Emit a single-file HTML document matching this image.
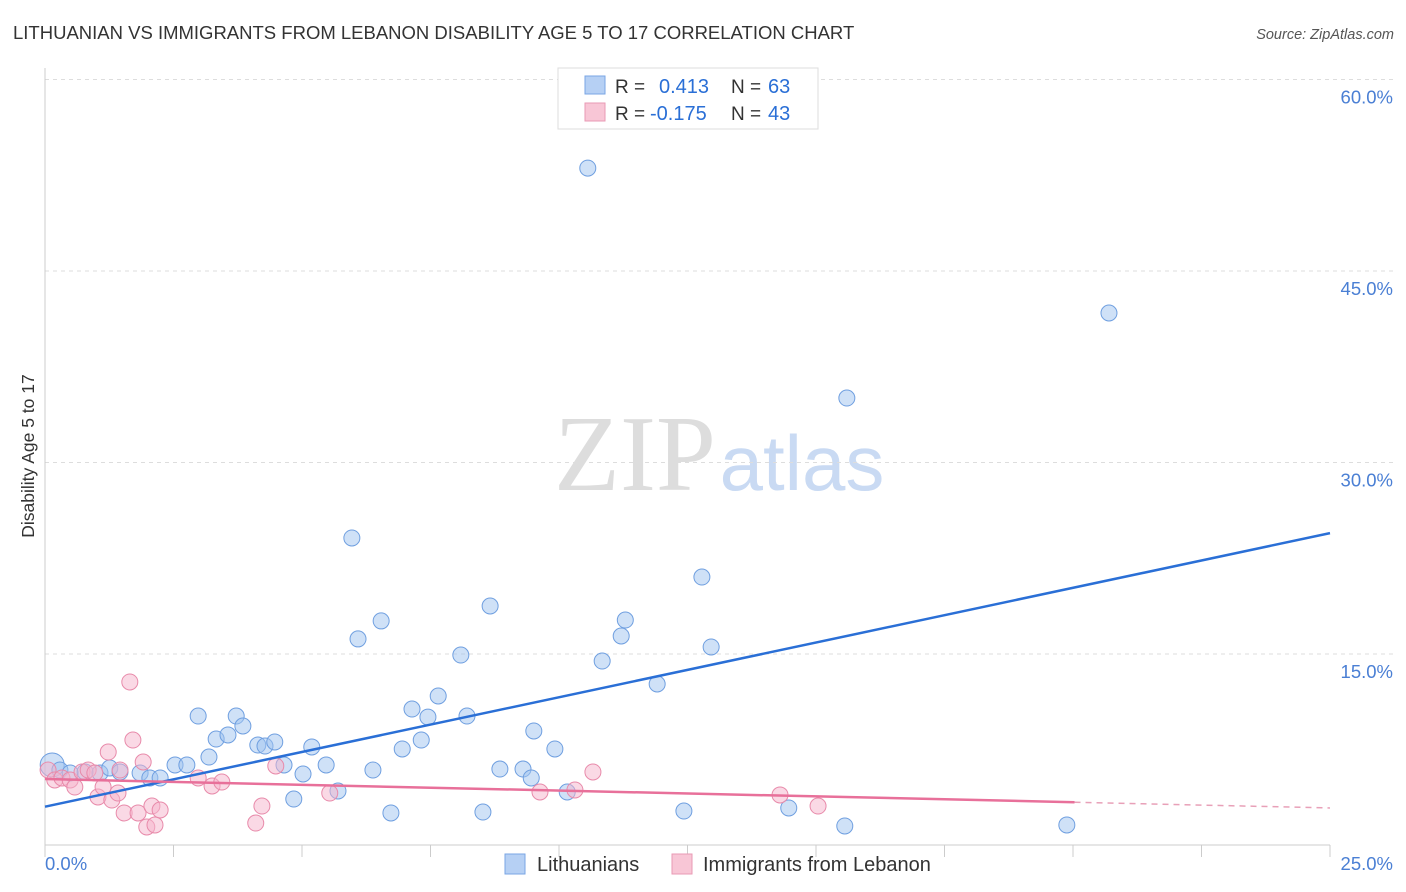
<!DOCTYPE html>
<html><head><meta charset="utf-8"><style>
body{margin:0;background:#fff;font-family:"Liberation Sans",sans-serif;}
</style></head><body>
<svg id="chart" width="1406" height="892" xmlns="http://www.w3.org/2000/svg" style="display:block">
<text x="13" y="39" font-size="18.5" fill="#333">LITHUANIAN VS IMMIGRANTS FROM LEBANON DISABILITY AGE 5 TO 17 CORRELATION CHART</text>
<text x="1394" y="39" font-size="14.5" fill="#555" font-style="italic" text-anchor="end">Source: ZipAtlas.com</text>
<g>
<text x="635" y="490" font-size="108" fill="#ddd" font-family="Liberation Serif,serif" text-anchor="middle">ZIP</text>
<text x="802" y="490" font-size="78" fill="#c9daf3" text-anchor="middle">atlas</text>
</g>
<g id="grid"></g><g id="axes"></g><g id="pts"></g><g id="lines"></g>
<g>
<rect x="558" y="68" width="260" height="61" fill="#fff" stroke="#ddd"/>
<rect x="585" y="76" width="20" height="18" fill="#b6d0f4" stroke="#7aa6e4"/>
<text x="615" y="93" font-size="19" fill="#333">R = </text><text x="659" y="93" font-size="20" fill="#2a6fd6">0.413</text>
<text x="731" y="93" font-size="19" fill="#333">N = </text><text x="768" y="93" font-size="20" fill="#2a6fd6">63</text>
<rect x="585" y="103" width="20" height="18" fill="#f8c6d6" stroke="#e99ab4"/>
<text x="615" y="120" font-size="19" fill="#333">R = </text><text x="650" y="120" font-size="20" fill="#2a6fd6">-0.175</text>
<text x="731" y="120" font-size="19" fill="#333">N = </text><text x="768" y="120" font-size="20" fill="#2a6fd6">43</text>
</g>
<g>
<rect x="505" y="854" width="20" height="20" fill="#b6d0f4" stroke="#7aa6e4"/>
<text x="537" y="871" font-size="20" fill="#333">Lithuanians</text>
<rect x="672" y="854" width="20" height="20" fill="#f8c6d6" stroke="#e99ab4"/>
<text x="703" y="871" font-size="20" fill="#333">Immigrants from Lebanon</text>
</g>
<text transform="translate(34,456) rotate(-90)" font-size="17.5" fill="#333" text-anchor="middle">Disability Age 5 to 17</text>
</svg>
<script>
const yTicks=[15,30,45,60];
const yTickLabels=["15.0%","30.0%","45.0%","60.0%"];
const xTickLabels=["0.0%","25.0%"];
const blueX=[0.14,0.29,0.49,0.78,1.07,1.26,1.46,1.85,2.04,2.24,2.53,2.76,2.98,3.19,3.33,3.56,3.72,3.85,4.14,4.28,4.47,4.65,4.84,5.02,5.19,5.47,5.70,5.97,6.09,6.38,6.54,6.73,6.95,7.14,7.32,7.45,7.65,8.09,8.21,8.52,8.66,8.85,9.30,9.46,9.51,9.92,10.16,10.56,10.84,11.21,11.29,11.91,12.43,12.78,12.96,14.47,15.56,15.60,19.88,20.70];
const blueY=[6.31,5.91,5.68,5.76,5.68,6.07,5.76,5.68,5.29,5.29,6.31,6.31,10.14,6.93,8.34,8.66,10.14,9.36,7.87,7.79,8.11,6.31,3.64,5.60,7.72,6.31,4.27,24.09,16.18,5.91,17.59,2.55,7.56,10.69,8.26,10.06,11.71,14.92,10.14,2.62,18.76,5.99,5.99,5.29,8.97,7.56,4.19,53.06,14.45,16.41,17.66,12.65,2.70,21.03,15.55,2.94,1.53,35.05,1.61,41.71];
const pinkX=[0.06,0.19,0.33,0.49,0.58,0.72,0.84,0.97,1.03,1.13,1.23,1.30,1.42,1.46,1.54,1.65,1.71,1.81,1.91,1.98,2.08,2.14,2.24,2.98,3.25,3.44,4.10,4.22,4.49,5.54,9.63,10.31,10.66,14.30,15.04];
const pinkY=[5.91,5.13,5.29,5.13,4.58,5.76,5.91,5.68,3.80,4.58,7.32,3.56,4.11,5.91,2.55,12.81,8.26,2.55,6.54,1.45,3.09,1.61,2.78,5.29,4.66,4.97,1.76,3.09,6.23,4.11,4.19,4.35,5.76,3.96,3.09];
const blueTrend=[[0,3.04],[25,24.47]];
const pinkTrend=[[0,5.21],[20.03,3.39],[25,2.94]];
const NS="http://www.w3.org/2000/svg";
const X=v=>45+v/25*1285, Y=v=>845.5-v/15*191.5;
function mk(t,a,p){const e=document.createElementNS(NS,t);for(const k in a)e.setAttribute(k,a[k]);document.getElementById(p).appendChild(e);return e;}
yTicks.forEach((t,i)=>{
 const l=mk('line',{x1:45,x2:1393,y1:Y(t),y2:Y(t),stroke:'#ddd','stroke-dasharray':'4,4'},'grid');
 
 
 const tx=mk('text',{x:1393,y:Y(t)+24,'font-size':18.5,fill:'#4a7fd4','text-anchor':'end'},'grid');
 tx.textContent=yTickLabels[i];
 
 
});
mk('line',{x1:45,x2:45,y1:68,y2:845,stroke:'#ccc'},'axes');
mk('line',{x1:45,x2:1330,y1:845,y2:845,stroke:'#ccc'},'axes');
for(let i=0;i<=10;i++){const t=mk('line',{x1:X(i*2.5),x2:X(i*2.5),y1:845,y2:857,stroke:'#ccc'},'axes');
 
 }
[[0,45,'start'],[25,1393,'end']].forEach((d,i)=>{const t=mk('text',{x:d[1],y:870,'font-size':18.5,fill:'#4a7fd4','text-anchor':d[2]},'axes');t.textContent=xTickLabels[i];
 
 });
blueX.forEach((x,i)=>{const c=mk('circle',{cx:X(x),cy:Y(blueY[i]),r:i==0?12:8,fill:'rgba(160,195,240,0.5)',stroke:'#6f9fe0','stroke-width':1},'pts');
 
 });
pinkX.forEach((x,i)=>{const c=mk('circle',{cx:X(x),cy:Y(pinkY[i]),r:8,fill:'rgba(245,180,204,0.5)',stroke:'#e88aaa','stroke-width':1},'pts');
 
 });
const bl=mk('line',{x1:X(blueTrend[0][0]),y1:Y(blueTrend[0][1]),x2:X(blueTrend[1][0]),y2:Y(blueTrend[1][1]),stroke:'#2a6fd6','stroke-width':2.5},'lines');


const pl=mk('line',{x1:X(pinkTrend[0][0]),y1:Y(pinkTrend[0][1]),x2:X(pinkTrend[1][0]),y2:Y(pinkTrend[1][1]),stroke:'#e8709a','stroke-width':2.5},'lines');


const pd=mk('line',{x1:X(pinkTrend[1][0]),y1:Y(pinkTrend[1][1]),x2:X(pinkTrend[2][0]),y2:Y(pinkTrend[2][1]),stroke:'#e8a0b8','stroke-width':1.5,'stroke-dasharray':'6,5'},'lines');


</script>
</body></html>
